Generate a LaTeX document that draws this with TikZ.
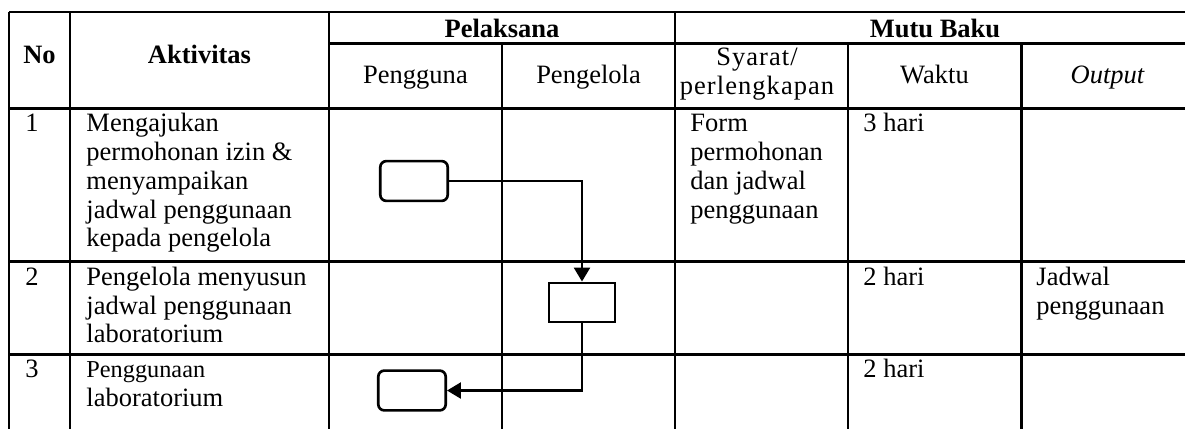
\documentclass[tikz,border=0pt]{standalone}
\usepackage{fontspec}
\setmainfont{Liberation Serif}
\usetikzlibrary{arrows.meta}
\newcommand\cellfont{\fontsize{12}{13}\selectfont}
\newcommand\smallcellfont{\fontsize{11}{13}\selectfont}
\begin{document}
\begin{tikzpicture}[x=0.4528pt,y=-0.4528pt,
  grid/.style={line width=1.35pt},
  cell/.style={anchor=north west, inner sep=0pt, align=left, font=\cellfont},
  hdr/.style={anchor=base, inner sep=0pt, font=\cellfont\bfseries},
  subhdr/.style={anchor=base, inner sep=0pt, font=\cellfont},
  term/.style={draw, line width=1.2pt, rounded corners=2.7pt, minimum width=30.5pt, minimum height=18pt, inner sep=0pt},
  proc/.style={draw, line width=1.2pt, minimum width=30pt, minimum height=17.8pt, inner sep=0pt},
  flow/.style={line width=1.15pt, -{Triangle[length=6.3pt, width=7.2pt]}}]
\useasboundingbox (0,0) rectangle (1185,428);
\begin{scope}
\clip (0,0) rectangle (1185,428);
% outer and vertical lines
\draw[grid] (9,12) -- (1194,12);
\draw[grid] (329,43) -- (1194,43);
\draw[grid] (9,108) -- (1194,108);
\draw[grid] (9,261) -- (1194,261);
\draw[grid] (9,354) -- (1194,354);
\draw[grid] (9,12) -- (9,440);
\draw[grid] (70,12) -- (70,440);
\draw[grid] (329,12) -- (329,440);
\draw[grid] (502,43) -- (502,440);
\draw[grid] (675,12) -- (675,440);
\draw[grid] (848,43) -- (848,440);
\draw[grid] (1021,43) -- (1021,440);
\draw[grid] (1194,12) -- (1194,440);
\end{scope}
% header
\node[hdr] (hno) at (39.5,63) {No};
\node[hdr] (hakt) at (199.5,63) {Aktivitas};
\node[hdr] (hpel) at (502,37) {Pelaksana};
\node[hdr] (hmutu) at (935,37) {Mutu Baku};
\node[subhdr] (hpengguna) at (415.5,83) {Pengguna};
\node[subhdr] (hpengelola) at (588.5,83) {Pengelola};
\node[anchor=north, inner sep=0pt, align=center, font={\fontsize{12}{11.8}\selectfont\addfontfeature{LetterSpace=4}}] (hsyarat) at (757,47.3) {\strut Syarat/\\perlengkapan};
\node[subhdr] (hwaktu) at (934.5,83) {Waktu};
\node[subhdr, font=\cellfont\itshape] (hout) at (1107.5,83) {Output};
% row 1
\node[cell] (n1) at (25,111.4) {\strut 1};
\node[cell] (a1) at (86,111.4) {\strut Mengajukan\\permohonan izin \&\\menyampaikan\\jadwal penggunaan\\kepada pengelola};
\node[cell] (s1) at (690,111.4) {\strut Form\\permohonan\\dan jadwal\\penggunaan};
\node[cell] (w1) at (863,111.4) {\strut 3 hari};
% row 2
\node[cell] (n2) at (25,264.9) {\strut 2};
\node[cell] (a2) at (86,264.9) {\strut Pengelola menyusun\\jadwal penggunaan\\laboratorium};
\node[cell] (w2) at (863,264.9) {\strut 2 hari};
\node[cell] (o2) at (1036,264.9) {\strut Jadwal\\penggunaan};
% row 3
\node[cell] (n3) at (25,356.9) {\strut 3};
\node[cell] (a3) at (86,356.9) {\strut{\smallcellfont Penggunaan}\\laboratorium};
\node[cell] (w3) at (863,356.9) {\strut 2 hari};
% flowchart
\node[term] (b1) at (414,181) {};
\node[proc] (b2) at (582,302.5) {};
\node[term] (b3) at (412,390.5) {};
\draw[flow] (b1.east) -| (b2.north);
\draw[flow] (b2.south) |- (b3.east);
\end{tikzpicture}
\end{document}
